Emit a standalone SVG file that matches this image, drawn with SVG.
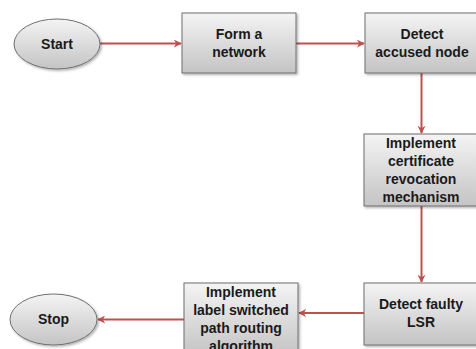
<svg xmlns="http://www.w3.org/2000/svg" width="476" height="349" viewBox="0 0 476 349">
  <style>
    .box { fill: url(#grey); stroke: #6f6f6f; stroke-width: 1; filter: url(#shadow); }
    .oval { fill: url(#grey); stroke: #6f6f6f; stroke-width: 1; filter: url(#shadow); }
    .lbl { font-family: "Liberation Sans", Arial, sans-serif; font-weight: bold; font-size: 14px; fill: #1a1a1a; text-anchor: middle; }
    .edge { stroke: #c0504d; stroke-width: 2; fill: none; marker-end: url(#arrow); }
  </style>
  <defs>
    <linearGradient id="grey" x1="0" y1="0" x2="0" y2="1">
      <stop offset="0" stop-color="#f4f4f4"/>
      <stop offset="1" stop-color="#c4c4c4"/>
    </linearGradient>
    <filter id="shadow" x="-10%" y="-10%" width="130%" height="130%">
      <feDropShadow dx="1.5" dy="1.5" stdDeviation="1" flood-color="#000" flood-opacity="0.3"/>
    </filter>
    <marker id="arrow" viewBox="0 0 10 10" refX="9" refY="5" markerWidth="4" markerHeight="4" orient="auto">
      <path d="M0,0 L10,5 L0,10 L3,5 z" fill="#c0504d"/>
    </marker>
  </defs>

  <rect width="476" height="349" fill="#ffffff"/>

  <g id="connectors">
    <line class="edge" x1="100" y1="43.5" x2="181" y2="43.5"/>
    <line class="edge" x1="296" y1="43.5" x2="364" y2="43.5"/>
    <line class="edge" x1="421.5" y1="73" x2="421.5" y2="133"/>
    <line class="edge" x1="421.5" y1="206" x2="421.5" y2="282"/>
    <line class="edge" x1="364" y1="313" x2="299" y2="313"/>
    <line class="edge" x1="184" y1="319.5" x2="98" y2="319.5"/>
  </g>

  <g id="start">
    <ellipse class="oval" cx="57" cy="44" rx="43" ry="25"/>
    <text class="lbl" x="57" y="49">Start</text>
  </g>

  <g id="form-network">
    <rect class="box" x="182" y="13" width="114" height="60"/>
    <text class="lbl" x="239" y="39">Form a</text>
    <text class="lbl" x="239" y="57">network</text>
  </g>

  <g id="detect-accused">
    <rect class="box" x="365" y="13" width="113" height="60"/>
    <text class="lbl" x="422" y="39">Detect</text>
    <text class="lbl" x="422" y="57">accused node</text>
  </g>

  <g id="certificate-revocation">
    <rect class="box" x="364" y="134" width="114" height="72"/>
    <text class="lbl" x="421" y="148">Implement</text>
    <text class="lbl" x="421" y="166">certificate</text>
    <text class="lbl" x="421" y="184">revocation</text>
    <text class="lbl" x="421" y="202">mechanism</text>
  </g>

  <g id="detect-faulty">
    <rect class="box" x="364" y="283" width="114" height="62"/>
    <text class="lbl" x="421" y="309">Detect faulty</text>
    <text class="lbl" x="421" y="327">LSR</text>
  </g>

  <g id="lsp-routing">
    <rect class="box" x="184" y="283" width="114" height="72"/>
    <text class="lbl" x="241" y="297">Implement</text>
    <text class="lbl" x="241" y="315">label switched</text>
    <text class="lbl" x="241" y="333">path routing</text>
    <text class="lbl" x="241" y="351">algorithm</text>
  </g>

  <g id="stop">
    <ellipse class="oval" cx="53.5" cy="319.5" rx="43.5" ry="25.5"/>
    <text class="lbl" x="53.5" y="324">Stop</text>
  </g>
</svg>
